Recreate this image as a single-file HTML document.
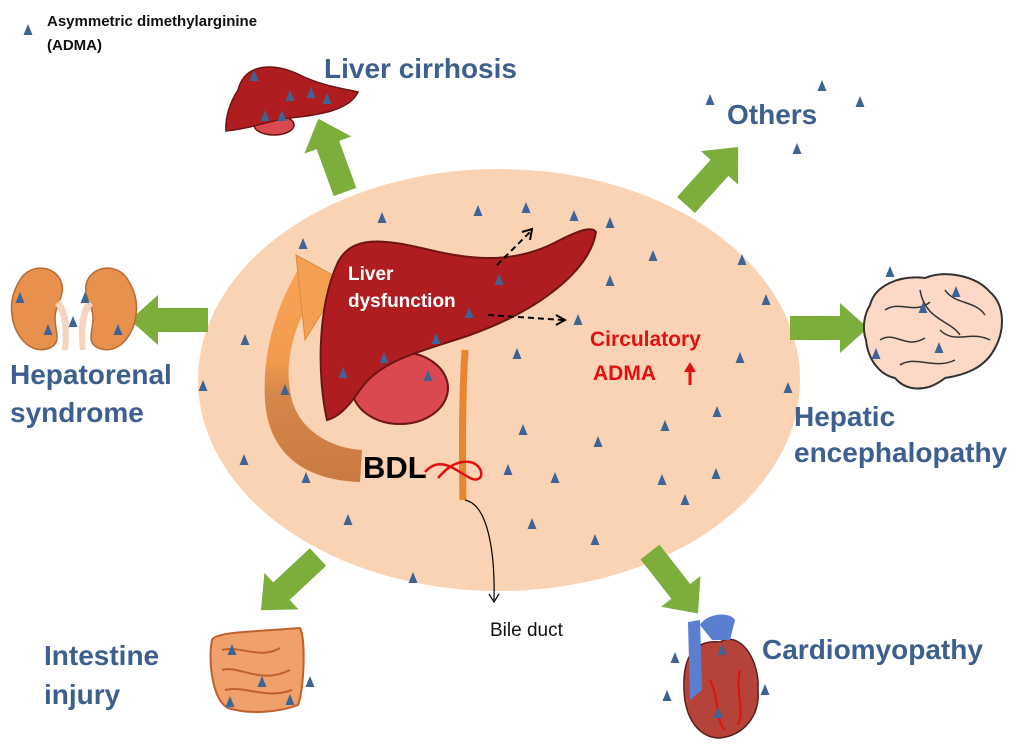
<!DOCTYPE html>
<html><head><meta charset="utf-8"><style>
html,body{margin:0;padding:0;background:#fff;}
svg{display:block;}
.t{font-family:"Liberation Sans",sans-serif;font-weight:bold;fill:#3d5f8f;font-size:28px;}
</style></head><body>
<svg width="1024" height="752" viewBox="0 0 1024 752" xmlns="http://www.w3.org/2000/svg">
<defs>
<path id="tr" d="M0,-6 L4.5,5 L-4.5,5 Z" fill="#3d6496"/>
<path id="ga" d="M0,-12 L50,-12 L50,-25 L78,0 L50,25 L50,12 L0,12 Z" fill="#7dae3c"/>
<linearGradient id="og" x1="0" y1="0" x2="0" y2="1">
<stop offset="0" stop-color="#f8a456"/><stop offset="0.45" stop-color="#f09a4c"/><stop offset="0.6" stop-color="#d6874a"/><stop offset="1" stop-color="#c97a40"/>
</linearGradient>
</defs>
<!-- legend -->
<use href="#tr" x="28" y="30"/>
<text x="47" y="26" font-family="Liberation Sans,sans-serif" font-weight="bold" font-size="15" fill="#111">Asymmetric dimethylarginine</text>
<text x="47" y="50" font-family="Liberation Sans,sans-serif" font-weight="bold" font-size="15" fill="#111">(ADMA)</text>

<!-- ellipse -->
<ellipse cx="499" cy="380" rx="301" ry="211" fill="#f9d3b4"/>

<!-- green arrows -->
<g transform="translate(345,192) rotate(-110)"><use href="#ga"/></g>
<g transform="translate(686,205) rotate(-48)"><use href="#ga"/></g>
<g transform="translate(208,320) rotate(180)"><use href="#ga"/></g>
<g transform="translate(790,328)"><use href="#ga"/></g>
<g transform="translate(318,557) rotate(137)"><use href="#ga"/></g>
<g transform="translate(650,552) rotate(52)"><use href="#ga"/></g>

<!-- orange curved arrow -->
<path d="M303,262 C278,300 262,350 265,400 C268,450 300,480 360,482 L362,450 C330,448 300,430 292,400 C284,370 290,335 310,300 Z" fill="url(#og)"/>
<path d="M296,255 L342,280 L305,340 Z" fill="#f5a050" stroke="#d88a40" stroke-width="1"/>

<!-- liver -->
<ellipse cx="400" cy="388" rx="48" ry="36" fill="#d9494f" stroke="#6e1414" stroke-width="2"/>
<path d="M338,262 C352,236 380,238 430,250 C480,262 520,262 560,240 C580,230 592,226 596,232 C590,270 540,310 470,335 C420,352 380,360 360,390 C345,412 335,418 327,420 C318,380 316,310 338,262 Z" fill="#b01d20" stroke="#6e1414" stroke-width="2"/>
<text x="348" y="280" font-family="Liberation Sans,sans-serif" font-weight="bold" font-size="19" fill="#fff">Liver</text>
<text x="348" y="307" font-family="Liberation Sans,sans-serif" font-weight="bold" font-size="19" fill="#fff">dysfunction</text>
<!-- bile duct -->
<path d="M465,350 C462,400 462,450 463,500" stroke="#e8862f" stroke-width="7" fill="none"/>
<path d="M465,500 C490,505 495,560 494,600" stroke="#000" stroke-width="1.2" fill="none"/>
<path d="M489,594 L494,602 L499,594" stroke="#000" stroke-width="1.2" fill="none"/>
<text x="490" y="636" font-family="Liberation Sans,sans-serif" font-size="19" fill="#111">Bile duct</text>
<!-- dashed arrows -->
<path d="M497,265 L530,232" stroke="#000" stroke-width="2" stroke-dasharray="6,4" fill="none"/>
<path d="M522,232 L532,229 L530,240" stroke="#000" stroke-width="2" fill="none"/>
<path d="M488,315 L563,320" stroke="#000" stroke-width="2" stroke-dasharray="6,4" fill="none"/>
<path d="M556,315 L565,320 L556,325" stroke="#000" stroke-width="2" fill="none"/>
<!-- BDL -->
<text x="363" y="478" font-family="Liberation Sans,sans-serif" font-weight="bold" font-size="31" fill="#000">BDL</text>
<path d="M425,472 C440,455 455,470 470,478 C485,485 485,465 470,462 C455,460 445,470 438,478" stroke="#e31010" stroke-width="2.5" fill="none"/>
<!-- circulatory -->
<text x="590" y="346" font-family="Liberation Sans,sans-serif" font-weight="bold" font-size="21" fill="#e31010">Circulatory</text>
<text x="593" y="380" font-family="Liberation Sans,sans-serif" font-weight="bold" font-size="21" fill="#e31010">ADMA</text>
<path d="M690,385 L690,365" stroke="#e31010" stroke-width="3"/>
<path d="M684,372 L690,362 L696,372 Z" fill="#e31010"/>

<!-- labels -->
<text class="t" x="324" y="78" font-size="28">Liver cirrhosis</text>
<text class="t" x="727" y="124">Others</text>
<text class="t" x="10" y="384" font-size="31">Hepatorenal</text>
<text class="t" x="10" y="422" font-size="31">syndrome</text>
<text class="t" x="794" y="426" font-size="24">Hepatic</text>
<text class="t" x="794" y="462" font-size="23.3">encephalopathy</text>
<text class="t" x="44" y="665" font-size="29">Intestine</text>
<text class="t" x="44" y="704" font-size="29">injury</text>
<text class="t" x="762" y="659" font-size="29">Cardiomyopathy</text>

<!-- small liver -->
<ellipse cx="274" cy="125" rx="20" ry="10" fill="#d9494f" stroke="#6e1414" stroke-width="1.5"/>
<path d="M238,90 C245,62 275,63 300,75 C320,85 340,88 358,92 C350,110 320,115 290,118 C270,120 255,128 226,131 C225,118 230,102 238,90 Z" fill="#b01d20" stroke="#6e1414" stroke-width="1.5"/>

<!-- kidneys -->
<path d="M20,280 C30,262 58,265 62,285 C64,298 55,305 55,318 C55,332 62,342 50,348 C30,356 14,335 12,315 C10,300 14,290 20,280 Z" fill="#e8904e" stroke="#b86a30" stroke-width="1.5"/>
<path d="M128,280 C118,262 90,265 86,285 C84,298 93,305 93,318 C93,332 86,342 98,348 C118,356 134,335 136,315 C138,300 134,290 128,280 Z" fill="#e8904e" stroke="#b86a30" stroke-width="1.5"/>
<path d="M55,305 C62,312 64,330 62,350 L68,350 C70,330 70,312 60,300 Z M93,305 C86,312 84,330 86,350 L80,350 C78,330 78,312 88,300 Z" fill="#f5d5c0"/>

<!-- brain -->
<path d="M870,305 C875,285 900,275 925,278 C945,270 975,275 990,292 C1005,305 1005,330 995,348 C985,368 965,375 945,378 C925,394 905,390 895,378 C880,375 868,360 866,340 C862,328 864,315 870,305 Z" fill="#fbd9c6" stroke="#333" stroke-width="2"/>
<path d="M885,310 C900,300 915,315 930,302 M945,290 C955,305 975,300 985,315 M880,340 C895,330 905,350 925,338 M940,330 C955,345 970,330 990,340 M900,365 C915,355 935,370 955,360 M920,290 C925,320 950,320 960,335" stroke="#333" stroke-width="1.5" fill="none"/>

<!-- intestine -->
<path d="M212,640 C215,632 250,632 300,628 C306,640 304,690 298,705 C280,712 250,715 228,708 C212,700 208,660 212,640 Z" fill="#f0a06a" stroke="#c06030" stroke-width="2"/>
<path d="M222,650 C240,645 260,660 280,648 M222,670 C240,665 260,685 290,670 M225,690 C245,685 265,700 292,690" stroke="#c06030" stroke-width="2" fill="none"/>

<!-- heart -->
<path d="M684,690 C682,650 700,640 720,642 C740,630 760,660 758,690 C760,715 745,735 720,738 C700,738 685,720 684,690 Z" fill="#b5433a" stroke="#5a2020" stroke-width="1.5"/>
<path d="M688,622 L700,620 L702,690 L690,700 Z" fill="#5a7fd0"/>
<path d="M700,625 C705,615 728,610 735,620 L730,640 L712,640 Z" fill="#5a7fd0"/>
<path d="M710,680 C720,700 715,720 725,730 M740,670 C735,690 745,710 738,725" stroke="#e31010" stroke-width="2" fill="none"/>

<!-- triangles -->
<g>
<use href="#tr" x="254" y="76"/><use href="#tr" x="290" y="96"/><use href="#tr" x="311" y="93"/><use href="#tr" x="327" y="99"/><use href="#tr" x="265" y="116"/><use href="#tr" x="282" y="116"/>
<use href="#tr" x="710" y="100"/><use href="#tr" x="822" y="86"/><use href="#tr" x="860" y="102"/><use href="#tr" x="797" y="149"/>
<use href="#tr" x="382" y="218"/><use href="#tr" x="478" y="211"/><use href="#tr" x="526" y="208"/><use href="#tr" x="574" y="216"/><use href="#tr" x="610" y="223"/>
<use href="#tr" x="303" y="244"/><use href="#tr" x="653" y="256"/><use href="#tr" x="610" y="281"/><use href="#tr" x="742" y="260"/><use href="#tr" x="499" y="280"/>
<use href="#tr" x="578" y="320"/><use href="#tr" x="469" y="313"/><use href="#tr" x="436" y="339"/><use href="#tr" x="384" y="358"/><use href="#tr" x="343" y="373"/><use href="#tr" x="428" y="376"/>
<use href="#tr" x="517" y="354"/><use href="#tr" x="285" y="390"/><use href="#tr" x="245" y="340"/><use href="#tr" x="203" y="386"/><use href="#tr" x="766" y="300"/>
<use href="#tr" x="740" y="358"/><use href="#tr" x="788" y="388"/><use href="#tr" x="717" y="412"/><use href="#tr" x="665" y="426"/><use href="#tr" x="523" y="430"/>
<use href="#tr" x="598" y="442"/><use href="#tr" x="508" y="470"/><use href="#tr" x="555" y="478"/><use href="#tr" x="244" y="460"/><use href="#tr" x="306" y="478"/>
<use href="#tr" x="662" y="480"/><use href="#tr" x="716" y="474"/><use href="#tr" x="685" y="500"/><use href="#tr" x="348" y="520"/><use href="#tr" x="532" y="524"/>
<use href="#tr" x="595" y="540"/><use href="#tr" x="413" y="578"/>
<use href="#tr" x="20" y="298"/><use href="#tr" x="85" y="298"/><use href="#tr" x="48" y="330"/><use href="#tr" x="118" y="330"/><use href="#tr" x="73" y="322"/>
<use href="#tr" x="890" y="272"/><use href="#tr" x="956" y="292"/><use href="#tr" x="923" y="308"/><use href="#tr" x="876" y="354"/><use href="#tr" x="939" y="348"/>
<use href="#tr" x="232" y="650"/><use href="#tr" x="262" y="682"/><use href="#tr" x="310" y="682"/><use href="#tr" x="230" y="702"/><use href="#tr" x="290" y="700"/>
<use href="#tr" x="675" y="658"/><use href="#tr" x="667" y="696"/><use href="#tr" x="722" y="650"/><use href="#tr" x="765" y="690"/><use href="#tr" x="718" y="713"/>
</g>
</svg>
</body></html>
